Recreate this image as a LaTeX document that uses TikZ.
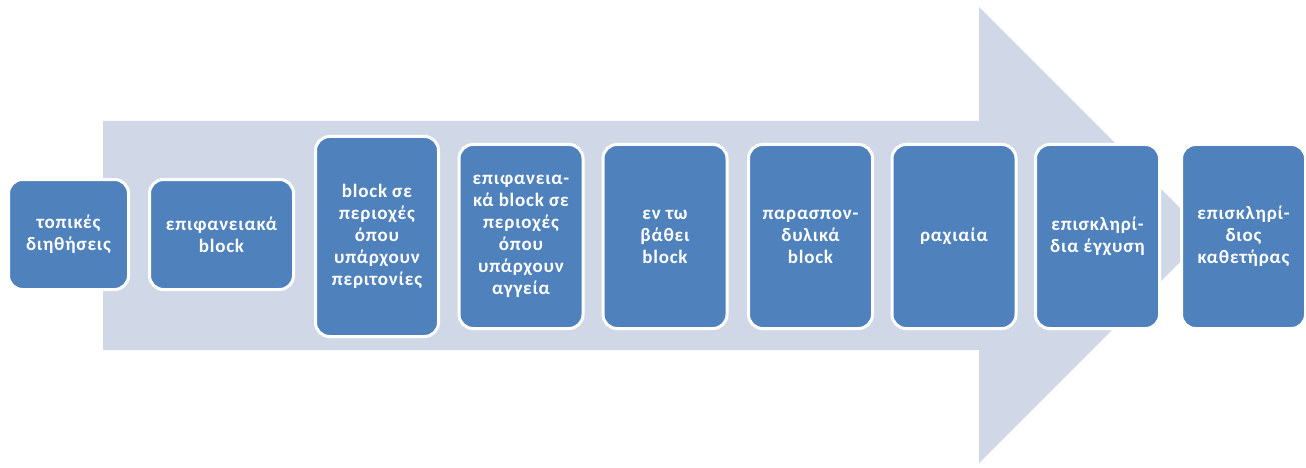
\documentclass[tikz,border=0pt]{standalone}
\usepackage{fontspec}
\setmainfont{Carlito}[LetterSpace=4]
\definecolor{stepblue}{RGB}{79,129,189}
\definecolor{arrowfill}{RGB}{208,216,232}
\begin{document}
\begin{tikzpicture}[x=1pt,y=-1pt,
  stepbox/.style={draw=white, line width=3pt, fill=stepblue, rounded corners=14pt,
    text=white, align=center, inner sep=0pt, font=\bfseries\fontsize{19}{22}\selectfont},
  tallbox/.style={stepbox, minimum width=124pt, minimum height=184pt}]
\useasboundingbox (0,0) rectangle (1306,468);
% background arrow
\fill[arrowfill] (103,121) -- (979,121) -- (979,7) -- (1207,235) -- (979,463)
  -- (979,350) -- (103,350) -- cycle;
% steps
\node[stepbox, minimum width=120pt, minimum height=110pt] (local) at (68.5,234.5) {τοπικές\\διηθήσεις};
\node[stepbox, minimum width=144pt, minimum height=110pt] (surface) at (221.5,234.5) {επιφανειακά\\block};
\node[stepbox, minimum width=123pt, minimum height=200pt] (fascia) at (377,236.5) {block σε\\περιοχές\\όπου\\υπάρχουν\\περιτονίες};
\node[tallbox] (vessels) at (521,236.5) {επιφανεια-\\κά block σε\\περιοχές\\όπου\\υπάρχουν\\αγγεία};
\node[tallbox] (deep) at (665,236.5) {εν τω\\βάθει\\block};
\node[tallbox] (paraspinal) at (810.5,236.5) {παρασπον-\\δυλικά\\block};
\node[tallbox] (spinal) at (954,236.5) {ραχιαία};
\node[tallbox] (epidural) at (1097.5,236.5) {επισκληρί-\\δια έγχυση};
\node[tallbox] (catheter) at (1243.5,236.5) {επισκληρί-\\διος\\καθετήρας};
\end{tikzpicture}
\end{document}
